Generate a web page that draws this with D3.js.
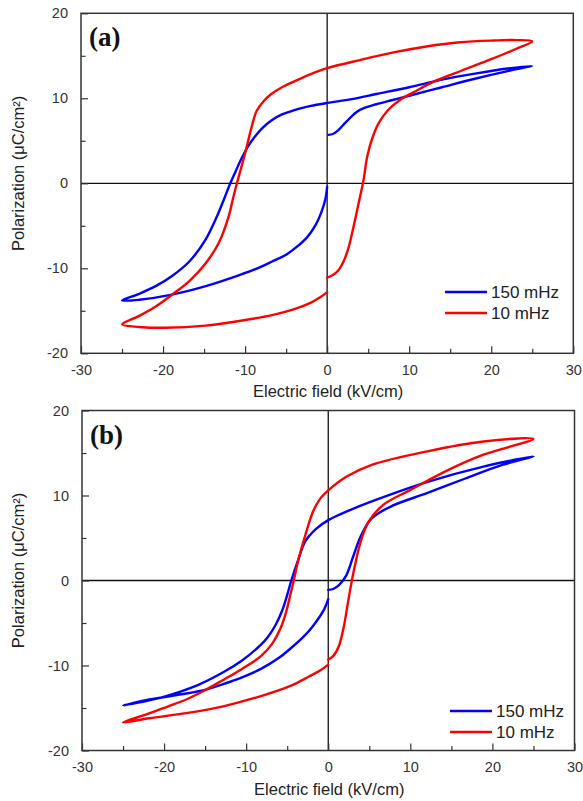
<!DOCTYPE html>
<html><head><meta charset="utf-8">
<script src="https://cdn.jsdelivr.net/npm/d3@7"></script>
<style>body{margin:0;background:#fff}svg{display:block}</style></head>
<body>
<svg id="chart" width="583" height="801"></svg>
<script>
// ---- data ----
const seriesNames = ["150 mHz", "10 mHz"];
const seriesColors = ["#0000ff", "#ff0000"];
const xTickValues = [-30, -20, -10, 0, 10, 20, 30];
const yTickValues = [-20, -10, 0, 10, 20];
const xMinorValues = [-25, -15, -5, 5, 15, 25];
const yMinorValues = [-15, -5, 5, 15];
const panelLabels = ["(a)", "(b)"];
const xTitle = "Electric field (kV/cm)";
const yTitle = "Polarization (\u03bcC/cm\u00b2)";

// panel (a), 150 mHz
const aBlueE = [0.15, 0.7, 1.3, 2.0, 2.8, 3.6, 4.6, 6, 8, 10, 14, 18, 22, 25,
  22, 18, 14, 10, 6, 3, 0, -2, -4, -5.5, -6.8, -7.9, -8.8, -9.6, -10.5, -11.2, -11.8, -12.5, -13.3, -14.8, -16.8, -18.9, -20.9, -22.9, -25,
  -22.9, -18.9, -14.8, -10.7, -8.5, -6.7, -5.0, -3.6, -2.4, -1.4, -0.7, -0.2, 0];
const aBlueP = [5.7, 5.8, 6.2, 6.9, 7.7, 8.4, 8.9, 9.3, 9.8, 10.3, 11.3, 12.3, 13.2, 13.8,
  13.5, 12.9, 12.2, 11.3, 10.5, 9.9, 9.45, 9.1, 8.6, 8.1, 7.4, 6.5, 5.5, 4.4, 2.8, 1.3, 0, -1.7, -3.6, -6.6, -9.2, -10.9, -12.1, -13.0, -13.8,
  -13.7, -13.1, -12.1, -10.8, -10.0, -9.2, -8.4, -7.4, -6.3, -4.9, -3.4, -1.8, -0.4];
// panel (a), 10 mHz
const aRedE = [0, 0.7, 1.4, 2.0, 2.6, 3.1, 3.6, 4.0, 4.4, 4.9, 5.5, 6.3, 7.4, 9.0, 10.5, 13.3, 16.5, 20, 23, 25,
  23, 20.3, 16.2, 12.1, 8.1, 4, 0, -2, -4, -5.5, -6.8, -7.8, -8.6, -9.1, -9.5, -9.8, -10.2, -10.6, -11.0, -11.5, -12.0, -13.2, -14.8, -16.8, -18.9, -20.9, -22.9, -25,
  -22.9, -19.7, -14.8, -10.7, -6.7, -4.0, -2.1, -1.0, 0];
const aRedP = [-11.1, -10.8, -10.2, -9.2, -7.6, -5.6, -3.4, -1.6, 0.2, 3.2, 5.3, 7.1, 8.6, 9.9, 10.7, 12.1, 13.3, 14.6, 15.8, 16.7,
  16.85, 16.8, 16.6, 16.1, 15.4, 14.5, 13.55, 12.85, 12.0, 11.3, 10.5, 9.6, 8.5, 7.0, 5.5, 4.3, 2.8, 1.4, 0, -1.9, -3.9, -7.0, -9.4, -11.5, -13.1, -14.5, -15.6, -16.6,
  -16.9, -17.0, -16.75, -16.2, -15.5, -14.8, -14.1, -13.5, -12.8];

// panel (b), 150 mHz
const bBlueE = [0, 0.6, 1.3, 2.2, 3.1, 4.0, 5.3, 7.6, 12.1, 16.7, 21.2, 25,
  18.9, 12.1, 5.3, 2.2, 0, -1.45, -2.8, -3.7, -4.5, -5.0, -5.6, -6.4, -7.4, -8.7, -10.5, -12.8, -15.9, -20.5, -25,
  -21.8, -17.3, -14.8, -12.8, -10.5, -8.2, -6.0, -4.6, -3.0, -1.9, -0.5, 0];
const bBlueP = [-1.1, -1.0, -0.55, 0.6, 3.0, 5.3, 7.3, 8.7, 10.3, 12.0, 13.6, 14.6,
  13.4, 11.6, 9.3, 8.1, 7.1, 6.1, 4.6, 2.3, 0, -1.7, -3.5, -5.2, -6.7, -8.0, -9.4, -10.8, -12.3, -13.8, -14.7,
  -14.0, -13.3, -12.8, -12.2, -11.4, -10.4, -9.1, -8.0, -6.6, -5.4, -3.4, -2.2];
// panel (b), 10 mHz
const bRedE = [0, 0.6, 1.3, 1.9, 2.4, 2.8, 3.3, 3.9, 4.9, 6.7, 9.9, 14.4, 18.9, 25,
  18.9, 12.1, 5.3, 2.2, 0, -1.0, -1.9, -2.8, -3.7, -4.2, -4.6, -5.1, -5.8, -6.8, -8.2, -10.5, -12.8, -14.8, -17.3, -19.5, -22, -25,
  -21.8, -17.3, -12.8, -8.2, -4.6, -2.35, -1.0, 0];
const bRedP = [-9.3, -8.9, -7.7, -5.4, -2.6, -0.4, 2.0, 4.4, 6.9, 8.9, 10.6, 12.9, 14.8, 16.66,
  16.35, 15.2, 13.6, 12.2, 10.6, 9.6, 8.0, 5.3, 2.2, 0, -1.6, -3.6, -5.6, -7.4, -8.9, -10.4, -11.7, -12.8, -14.0, -14.8, -15.7, -16.7,
  -16.2, -15.6, -14.8, -13.6, -12.4, -11.3, -10.6, -9.9];

// ---- drawing ----
const svg = d3.select("#chart");
const panels = [
  {left: 81, right: 573.3, top: 13.3, bottom: 353.3, label: panelLabels[0],
   series: [[aBlueE, aBlueP], [aRedE, aRedP]], legendX: 445, legendY: 292, titleY: 397},
  {left: 82, right: 574.5, top: 410.5, bottom: 750.5, label: panelLabels[1],
   series: [[bBlueE, bBlueP], [bRedE, bRedP]], legendX: 450, legendY: 711, titleY: 795}
];
const axisColor = "#333";
const fmt = d => String(d);

panels.forEach(p => {
  const x = d3.scaleLinear().domain([-30, 30]).range([p.left, p.right]);
  const y = d3.scaleLinear().domain([-20, 20]).range([p.bottom, p.top]);
  const g = svg.append("g");

  // zero lines
  g.append("line").attr("x1", x(-30)).attr("x2", x(30)).attr("y1", y(0)).attr("y2", y(0))
    .attr("stroke", "#111").attr("stroke-width", 1.3);
  g.append("line").attr("x1", x(0)).attr("x2", x(0)).attr("y1", y(-20)).attr("y2", y(20))
    .attr("stroke", "#111").attr("stroke-width", 1.3);

  // curves
  const line = d3.line().x(d => x(d[0])).y(d => y(d[1])).curve(d3.curveCatmullRom.alpha(0.5));
  p.series.forEach((s, i) => {
    const pts = s[0].map((e, k) => [e, s[1][k]]);
    g.append("path").attr("d", line(pts)).attr("fill", "none")
      .attr("stroke", seriesColors[i]).attr("stroke-width", 2.4)
      .attr("stroke-linejoin", "round").attr("stroke-linecap", "round");
  });

  // frame
  g.append("rect").attr("x", x(-30)).attr("y", y(20))
    .attr("width", x(30) - x(-30)).attr("height", y(-20) - y(20))
    .attr("fill", "none").attr("stroke", axisColor).attr("stroke-width", 1.5);

  // x axis ticks (inward)
  const xAxis = d3.axisBottom(x).tickValues(xTickValues).tickSize(-7).tickPadding(14).tickFormat(fmt);
  const gx = g.append("g").attr("transform", `translate(0,${y(-20)})`).call(xAxis);
  const xMinor = d3.axisBottom(x).tickValues(xMinorValues).tickSize(-4.5).tickFormat("");
  const gxm = g.append("g").attr("transform", `translate(0,${y(-20)})`).call(xMinor);
  // y axis ticks (inward)
  const yAxis = d3.axisLeft(y).tickValues(yTickValues).tickSize(-7).tickPadding(13).tickFormat(fmt);
  const gy = g.append("g").attr("transform", `translate(${x(-30)},0)`).call(yAxis);
  const yMinor = d3.axisLeft(y).tickValues(yMinorValues).tickSize(-4.5).tickFormat("");
  const gym = g.append("g").attr("transform", `translate(${x(-30)},0)`).call(yMinor);
  [gx, gxm, gy, gym].forEach(a => {
    a.select(".domain").remove();
    a.selectAll(".tick line").attr("stroke", axisColor).attr("stroke-width", 1.2);
    a.selectAll(".tick text").attr("fill", "#333").attr("font-family", "Liberation Sans, Arial, sans-serif")
      .attr("font-size", 14.5);
  });
  gx.selectAll(".tick text").attr("dy", "0.5em");

  // titles
  g.append("text").attr("x", (x(-30) + x(30)) / 2 + 1).attr("y", p.titleY)
    .attr("text-anchor", "middle").attr("font-family", "Liberation Sans, Arial, sans-serif")
    .attr("font-size", 16.5).attr("fill", "#222").text(xTitle);
  g.append("text").attr("transform", `translate(24,${(y(-20) + y(20)) / 2 - 10}) rotate(-90)`)
    .attr("text-anchor", "middle").attr("font-family", "Liberation Sans, Arial, sans-serif")
    .attr("font-size", 16.5).attr("fill", "#222").text(yTitle);

  // panel label
  g.append("text").attr("x", x(-30) + 8).attr("y", y(20) + 33)
    .attr("font-family", "Liberation Serif, Times New Roman, serif").attr("font-weight", "bold")
    .attr("font-size", 27).attr("fill", "#111").text(p.label);

  // legend
  seriesNames.forEach((n, i) => {
    const ly = p.legendY + i * 21;
    g.append("line").attr("x1", p.legendX).attr("x2", p.legendX + 42).attr("y1", ly).attr("y2", ly)
      .attr("stroke", seriesColors[i]).attr("stroke-width", 2.4);
    g.append("text").attr("x", p.legendX + 46).attr("y", ly).attr("dy", "0.36em")
      .attr("font-family", "Liberation Sans, Arial, sans-serif").attr("font-size", 17)
      .attr("fill", "#222").text(n);
  });
});
</script>
</body></html>
